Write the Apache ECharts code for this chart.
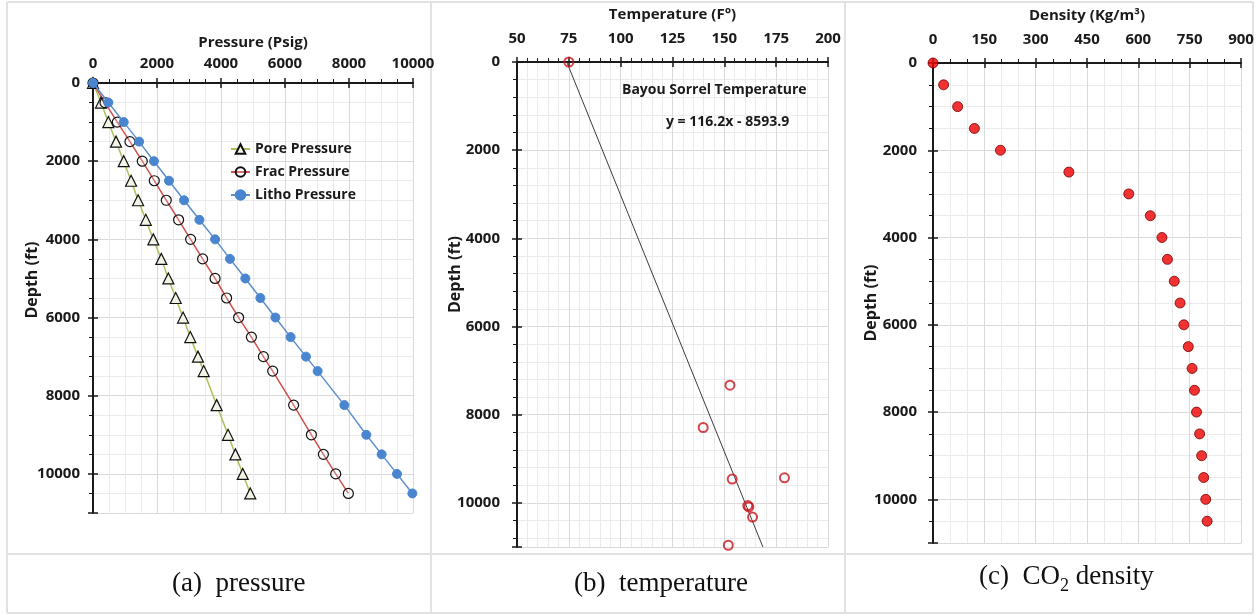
<!DOCTYPE html>
<html>
<head>
<meta charset="utf-8">
<style>
  html, body { margin: 0; padding: 0; background: #ffffff; }
  #chart { width: 1259px; height: 615px; }
</style>
<script src="https://cdn.jsdelivr.net/npm/echarts@6/dist/echarts.min.js"></script>
</head>
<body>
<div id="chart"></div>
<script>
// ---------- DATA ----------
// (a) pressure
const depthP = [0, 500, 1000, 1500, 2000, 2500, 3000, 3500, 4000, 4500, 5000, 5500, 6000, 6500, 7000, 7370, 8240, 9000, 9500, 10000, 10500];
const porePressure = [0, 250, 480, 720, 960, 1190, 1410, 1650, 1885, 2135, 2355, 2585, 2815, 3040, 3280, 3460, 3865, 4220, 4450, 4680, 4915];
const fracPressure = [0, 375, 760, 1155, 1540, 1915, 2290, 2675, 3050, 3425, 3815, 4175, 4550, 4950, 5325, 5615, 6270, 6825, 7200, 7585, 7980];
const lithoPressure = [0, 480, 960, 1440, 1905, 2375, 2845, 3325, 3815, 4280, 4760, 5230, 5700, 6175, 6655, 7020, 7855, 8540, 9020, 9500, 9980];
const pressureTicks = [0, 2000, 4000, 6000, 8000, 10000];

// (b) temperature
const tempF = [75, 152.7, 139.8, 153.8, 179.0, 161.8, 161.3, 163.6, 151.9];
const tempDepth = [0, 7330, 8290, 9460, 9430, 10090, 10060, 10320, 10960];
const trendTemp = [74, 168.6];
const trendDepth = [0, 11000];
const tempTicks = [50, 75, 100, 125, 150, 175, 200];

// (c) CO2 density
const densDepth = [0, 500, 1000, 1500, 2000, 2500, 3000, 3500, 4000, 4500, 5000, 5500, 6000, 6500, 7000, 7500, 8000, 8500, 9000, 9500, 10000, 10500];
const density = [0, 31, 72, 121, 197, 397, 572, 635, 669, 685, 705, 722, 733, 746, 757, 764, 770, 779, 785, 791, 797, 801];
const densityTicks = [0, 150, 300, 450, 600, 750, 900];
const depthTicks = [0, 2000, 4000, 6000, 8000, 10000];

// ---------- STYLE HELPERS ----------
const FONT = '"Open Sans", "Noto Sans", sans-serif';
const TXT = '#1a1a1a';
const AXIS_COLOR = '#1a1a1a';
const LBL = 15;

function pairs(xs, ys) { return xs.map((v, i) => [v, ys[i]]); }

function mainX(gi, min, max, interval, minorSplit, name, nameGap, margin) {
  return {
    type: 'value', gridIndex: gi, position: 'top', min: min, max: max, interval: interval,
    name: name, nameLocation: 'middle', nameGap: nameGap, nameMoveOverlap: false,
    nameTextStyle: { fontFamily: FONT, fontWeight: 700, fontSize: 15, color: TXT },
    axisLine: { show: true, onZero: false, lineStyle: { color: AXIS_COLOR, width: 2 } },
    axisTick: { show: true, inside: false, length: 5, lineStyle: { color: AXIS_COLOR, width: 1.5 } },
    minorTick: { show: true, splitNumber: minorSplit, length: 4, lineStyle: { color: AXIS_COLOR, width: 1 } },
    axisLabel: { show: true, margin: margin, fontFamily: FONT, fontWeight: 700, fontSize: LBL, color: TXT,
      formatter: v => String(v) },
    splitLine: { show: true, lineStyle: { color: '#dadada', width: 1 } },
    minorSplitLine: { show: true, lineStyle: { color: '#ebebeb', width: 1 } }
  };
}
function innerX(gi, min, max, interval) {
  return {
    type: 'value', gridIndex: gi, position: 'top', min: min, max: max, interval: interval,
    axisLine: { show: false, onZero: false }, axisLabel: { show: false },
    axisTick: { show: true, inside: true, length: 5, lineStyle: { color: AXIS_COLOR, width: 1.5 } },
    splitLine: { show: false }
  };
}
function mainY(gi, minorSplit, nameGap, margin, shiftUp) {
  return {
    type: 'value', gridIndex: gi, position: 'left', inverse: true, min: 0, max: 11000, interval: 2000,
    name: 'Depth (ft)', nameLocation: 'middle', nameGap: nameGap, nameRotate: 90, nameMoveOverlap: false,
    nameTextStyle: { fontFamily: FONT, fontWeight: 700, fontSize: 16, color: TXT,
      padding: shiftUp >= 0 ? [0, 0, 0, 2 * shiftUp] : [0, -2 * shiftUp, 0, 0] },
    axisLine: { show: true, onZero: false, lineStyle: { color: AXIS_COLOR, width: 2 } },
    axisTick: { show: true, inside: false, length: 5, lineStyle: { color: AXIS_COLOR, width: 1.5 } },
    minorTick: { show: true, splitNumber: minorSplit, length: 4, lineStyle: { color: AXIS_COLOR, width: 1 } },
    axisLabel: { show: true, margin: margin, fontFamily: FONT, fontWeight: 700, fontSize: LBL, color: TXT,
      formatter: v => v > 10500 ? '' : String(v) },
    splitLine: { show: true, lineStyle: { color: '#dadada', width: 1 } },
    minorSplitLine: { show: true, lineStyle: { color: '#ebebeb', width: 1 } }
  };
}
function innerY(gi) {
  return {
    type: 'value', gridIndex: gi, position: 'left', inverse: true, min: 0, max: 11000, interval: 2000,
    axisLine: { show: false, onZero: false }, axisLabel: { show: false },
    axisTick: { show: true, inside: true, length: 5, lineStyle: { color: AXIS_COLOR, width: 1.5 } },
    splitLine: { show: false }
  };
}

const pMin = pressureTicks[0], pMax = pressureTicks[pressureTicks.length - 1];
const tMin = tempTicks[0], tMax = tempTicks[tempTicks.length - 1];
const dMin = densityTicks[0], dMax = densityTicks[densityTicks.length - 1];

const borderColor = '#e2e2e2';
function vline(x, y1, y2) { return { type: 'line', shape: { x1: x, y1: y1, x2: x, y2: y2 }, style: { stroke: borderColor, lineWidth: 2 }, silent: true, z: -10 }; }
function hline(y, x1, x2) { return { type: 'line', shape: { x1: x1, y1: y, x2: x2, y2: y }, style: { stroke: borderColor, lineWidth: 2 }, silent: true, z: -10 }; }

const SERIF = '"Liberation Serif", "DejaVu Serif", serif';
const captionStyle = { fontFamily: SERIF, fontSize: 27, fill: '#111' };

const option = {
  animation: false,
  backgroundColor: '#ffffff',
  grid: [
    { left: 93, top: 83, width: 320, height: 430 },
    { left: 517, top: 62, width: 311, height: 485 },
    { left: 933, top: 63, width: 308, height: 480 }
  ],
  xAxis: [
    mainX(0, pMin, pMax, 2000, 4, 'Pressure (Psig)', 33, 12),
    innerX(0, pMin, pMax, 2000),
    mainX(1, tMin, tMax, 25, 5, 'Temperature (F\u00B0)', 40, 16),
    innerX(1, tMin, tMax, 25),
    mainX(2, dMin, dMax, 150, 3, 'Density (Kg/m\u00B3)', 40, 16),
    innerX(2, dMin, dMax, 150)
  ],
  yAxis: [
    mainY(0, 4, 53, 13, 18),
    innerY(0),
    mainY(1, 5, 54, 17, 30),
    innerY(1),
    mainY(2, 4, 54, 16, 0),
    innerY(2)
  ],
  legend: {
    show: true, orient: 'vertical', left: 225, top: 137, itemGap: 9, itemWidth: 19, itemHeight: 12,
    textStyle: { fontFamily: FONT, fontWeight: 700, fontSize: 14, color: TXT },
    data: ['Pore Pressure', 'Frac Pressure', 'Litho Pressure']
  },
  series: [
    {
      name: 'Pore Pressure', type: 'line', xAxisIndex: 0, yAxisIndex: 0,
      data: pairs(porePressure, depthP),
      symbol: 'triangle', symbolSize: 11,
      itemStyle: { color: '#f3f3e6', borderColor: '#111', borderWidth: 1.2 },
      lineStyle: { color: '#a9c25b', width: 1.5 }, z: 3
    },
    {
      name: 'Frac Pressure', type: 'line', xAxisIndex: 0, yAxisIndex: 0,
      data: pairs(fracPressure, depthP),
      symbol: 'circle', symbolSize: 10,
      itemStyle: { color: 'rgba(255,255,255,0.2)', borderColor: '#111', borderWidth: 1.2 },
      lineStyle: { color: '#d0504d', width: 1.5 }, z: 3
    },
    {
      name: 'Litho Pressure', type: 'line', xAxisIndex: 0, yAxisIndex: 0,
      data: pairs(lithoPressure, depthP),
      symbol: 'circle', symbolSize: 9,
      itemStyle: { color: '#4a86d0', borderColor: '#4a86d0', borderWidth: 1 },
      lineStyle: { color: '#5d8fcc', width: 1.5 }, z: 4
    },
    {
      name: 'Trend', type: 'line', xAxisIndex: 2, yAxisIndex: 2,
      data: pairs(trendTemp, trendDepth), showSymbol: false, symbol: 'none',
      lineStyle: { color: '#3c3c3c', width: 1 }, z: 2
    },
    {
      name: 'Temperature', type: 'scatter', xAxisIndex: 2, yAxisIndex: 2,
      data: pairs(tempF, tempDepth), symbol: 'circle', symbolSize: 9,
      itemStyle: { color: 'rgba(255,255,255,0)', borderColor: '#c8161d', borderWidth: 2 }, z: 3
    },
    {
      name: 'Density', type: 'scatter', xAxisIndex: 4, yAxisIndex: 4,
      data: pairs(density, densDepth), symbol: 'circle', symbolSize: 10,
      itemStyle: { color: '#ee0000', borderColor: '#7a0000', borderWidth: 1 }, z: 3
    }
  ],
  graphic: [
    hline(2, 7, 1253), hline(554, 7, 1253), hline(613, 7, 1253),
    vline(7, 2, 613), vline(431, 2, 613), vline(845, 2, 613), vline(1253, 2, 613),
    { type: 'text', left: 622, top: 83, style: { text: 'Bayou Sorrel Temperature', fontFamily: FONT, fontWeight: 700, fontSize: 14, fill: TXT }, z: 10 },
    { type: 'text', left: 666, top: 115, style: { text: 'y = 116.2x - 8593.9', fontFamily: FONT, fontWeight: 700, fontSize: 14, fill: TXT }, z: 10 },
    { type: 'text', left: 172, top: 570, style: Object.assign({ text: '(a)  pressure' }, captionStyle) },
    { type: 'text', left: 574, top: 570, style: Object.assign({ text: '(b)  temperature' }, captionStyle) },
    { type: 'text', left: 979, top: 563, style: {
        text: '{t|(c)  CO}{s|2}{t| density}',
        rich: {
          t: { fontFamily: SERIF, fontSize: 27, fill: '#111', color: '#111', verticalAlign: 'bottom', lineHeight: 30 },
          s: { fontFamily: SERIF, fontSize: 18, fill: '#111', color: '#111', verticalAlign: 'bottom', lineHeight: 22, padding: [0, 0, -5, 0] }
        }
      } }
  ]
};

const chart = echarts.init(document.getElementById('chart'), null, { renderer: 'canvas' });
chart.setOption(option);
</script>
</body>
</html>
